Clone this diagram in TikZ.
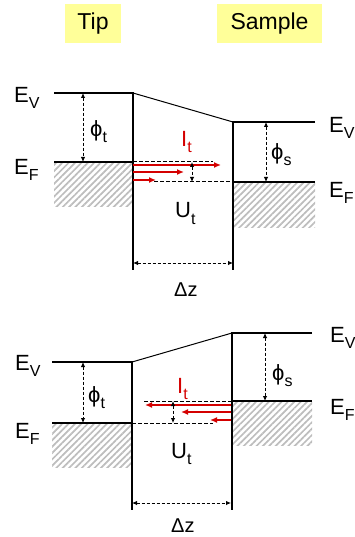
\documentclass[tikz,border=0pt]{standalone}
\usepackage{fontspec}
\setmainfont{Liberation Sans}
\usetikzlibrary{arrows.meta,patterns.meta}
\definecolor{labelfill}{HTML}{FFFF99}
\definecolor{tunnel}{HTML}{D40000}
\definecolor{hatch}{HTML}{BDBDBD}
\newcommand\bandsub[1]{\raisebox{-6pt}{\fontsize{16}{16}\selectfont #1}}
\tikzset{
  level/.style={line width=2.2pt},
  barrier/.style={line width=1pt},
  fermi/.style={line width=1pt,dash pattern=on 3.5pt off 2.5pt},
  measure/.style={line width=0.9pt,dash pattern=on 3pt off 2pt,
    {Latex[length=5pt,width=4.5pt]}-{Latex[length=5pt,width=4.5pt]}},
  current/.style={tunnel,line width=1.3pt,-{Latex[length=7pt,width=6pt]}},
  filled/.style={pattern={Lines[angle=45,distance=4.5pt,line width=1.7pt]},pattern color=hatch},
  lbl/.style={anchor=base west,inner sep=0pt,font=\fontsize{22}{22}\selectfont},
  side/.style={fill=labelfill,minimum height=39pt,inner sep=0pt,font=\fontsize{23}{23}\selectfont}
}

\begin{document}
\begin{tikzpicture}[x=1pt,y=-1pt]
\useasboundingbox (0,0) rectangle (355,537);

\node[side,minimum width=56pt] (tip) at (93,23.5) {Tip};
\node[side,minimum width=105pt] (sample) at (269.5,23.5) {Sample};

% upper panel: tip higher than sample
\coordinate (a1) at (54,93);   \coordinate (a2) at (133,93);   \coordinate (a3) at (133,270);
\coordinate (b1) at (315,122); \coordinate (b2) at (233,122);  \coordinate (b3) at (233,270);
\coordinate (af1) at (54,162); \coordinate (af2) at (133,162);
\coordinate (bf1) at (233,182); \coordinate (bf2) at (315,182);
\fill[filled] (af1) rectangle (133,206);
\fill[filled] (bf1) rectangle (315,227);
\draw[level] (a1) -- (a2) -- (a3);
\draw[level] (b1) -- (b2) -- (b3);
\draw[level] (af1) -- (af2);
\draw[level] (bf1) -- (bf2);
\draw[barrier] (a2) -- (b2);
\coordinate (ad) at (213,162); \coordinate (bd) at (154,182);
\draw[fermi] (af2) -- (ad);
\draw[fermi] (bd) -- (bf1);
\coordinate (c1s) at (133,165); \coordinate (c1e) at (221,165);
\coordinate (c2s) at (133,172); \coordinate (c2e) at (184,172);
\coordinate (c3s) at (133,180); \coordinate (c3e) at (156,180);
\draw[current] (c1s) -- (c1e);
\draw[current] (c2s) -- (c2e);
\draw[current] (c3s) -- (c3e);
\coordinate (u1) at (192,162); \coordinate (u2) at (192,182);
\draw[measure] (u1) -- (u2);
\coordinate (pt1) at (83,93);  \coordinate (pt2) at (83,162);
\coordinate (ps1) at (266,122); \coordinate (ps2) at (266,182);
\draw[measure] (pt1) -- (pt2);
\draw[measure] (ps1) -- (ps2);
\coordinate (z1) at (133,263); \coordinate (z2) at (233,263);
\draw[measure] (z1) -- (z2);

\node[lbl] (evtip) at (14,103) {E\bandsub{V}};
\node[lbl] (eftip) at (14,175) {E\bandsub{F}};
\node[lbl] (evsam) at (329,133) {E\bandsub{V}};
\node[lbl] (efsam) at (329,197) {E\bandsub{F}};
\node[lbl] (phit) at (90,137) {ϕ\bandsub{t}};
\node[lbl] (phis) at (271,160) {ϕ\bandsub{s}};
\node[lbl,text=tunnel] (it) at (181,147) {I\bandsub{t}};
\node[lbl] (ut) at (175,218) {U\bandsub{t}};
\node[lbl,font=\fontsize{20}{20}\selectfont] (dz) at (174,296) {Δz};

% lower panel: sample higher than tip
\coordinate (d1) at (52,362);  \coordinate (d2) at (132,362);  \coordinate (d3) at (132,510);
\coordinate (e1) at (312,333); \coordinate (e2) at (232,333);  \coordinate (e3) at (232,510);
\coordinate (df1) at (52,423); \coordinate (df2) at (132,423);
\coordinate (ef1) at (232,401); \coordinate (ef2) at (312,401);
\fill[filled] (df1) rectangle (132,467);
\fill[filled] (ef1) rectangle (312,445);
\draw[level] (d1) -- (d2) -- (d3);
\draw[level] (e1) -- (e2) -- (e3);
\draw[level] (df1) -- (df2);
\draw[level] (ef1) -- (ef2);
\draw[barrier] (d2) -- (e2);
\coordinate (ed) at (144,401); \coordinate (dd) at (213,423);
\draw[fermi] (ed) -- (ef1);
\draw[fermi] (df2) -- (dd);
\coordinate (k1s) at (231,405); \coordinate (k1e) at (145,405);
\coordinate (k2s) at (231,412); \coordinate (k2e) at (181,412);
\coordinate (k3s) at (231,420); \coordinate (k3e) at (210,420);
\draw[current] (k1s) -- (k1e);
\draw[current] (k2s) -- (k2e);
\draw[current] (k3s) -- (k3e);
\coordinate (v1) at (173,401); \coordinate (v2) at (173,423);
\draw[measure] (v1) -- (v2);
\coordinate (qt1) at (83,362);  \coordinate (qt2) at (83,423);
\coordinate (qs1) at (265,333); \coordinate (qs2) at (265,401);
\draw[measure] (qt1) -- (qt2);
\draw[measure] (qs1) -- (qs2);
\coordinate (y1) at (132,503); \coordinate (y2) at (231,503);
\draw[measure] (y1) -- (y2);

\node[lbl] (evtip2) at (15,370) {E\bandsub{V}};
\node[lbl] (eftip2) at (15,438) {E\bandsub{F}};
\node[lbl] (evsam2) at (330,342) {E\bandsub{V}};
\node[lbl] (efsam2) at (330,414) {E\bandsub{F}};
\node[lbl] (phit2) at (88,402) {ϕ\bandsub{t}};
\node[lbl] (phis2) at (272,380) {ϕ\bandsub{s}};
\node[lbl,text=tunnel] (it2) at (177,393) {I\bandsub{t}};
\node[lbl] (ut2) at (171,458) {U\bandsub{t}};
\node[lbl,font=\fontsize{20}{20}\selectfont] (dz2) at (171,532) {Δz};
\end{tikzpicture}
\end{document}
